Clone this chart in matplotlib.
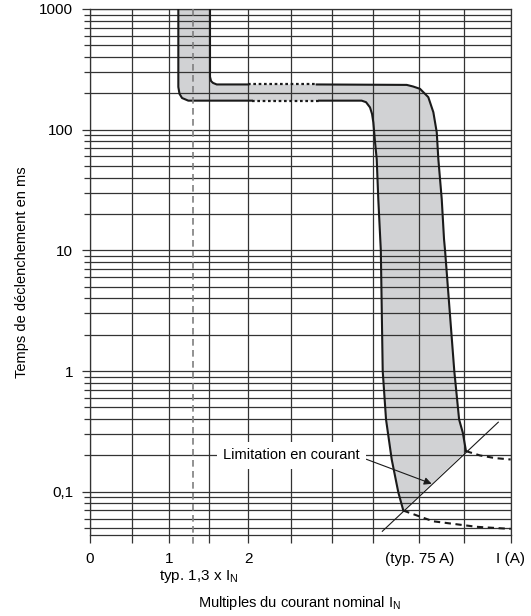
import matplotlib
matplotlib.use("Agg")
import matplotlib.pyplot as plt
import numpy as np

plt.rcParams['font.family'] = ['Liberation Sans', 'DejaVu Sans']
plt.rcParams['font.size'] = 11

# x axis: multiples of the nominal current (grid positions)
x_grid = [0, 0.53, 1.0, 1.5, 2.0, 2.54, 3.06, 3.58, 4.17, 4.74, 5.325]
x_labels = ['0', '', '1', '', '2', '', '', '', '(typ. 75 A)', '', 'I (A)']
x_typ = 1.3

y_major = [0.1, 1, 10, 100, 1000]
y_major_labels = ['0,1', '1', '10', '100', '1000']

# lower (fast) boundary of the tripping band, ms
low1_x = [1.118, 1.118, 1.133, 1.165, 1.244, 2.047]
low1_t = [1000, 226, 198, 183, 174, 174]
low2_x = [2.90, 3.439, 3.494, 3.544, 3.570, 3.586, 3.608, 3.629, 3.649, 3.681,
          3.705, 3.747, 3.819, 3.903, 3.966]
low2_t = [174, 174, 169, 153, 135, 115, 78.6, 57.1, 26.6, 10.0,
          1.0, 0.397, 0.185, 0.0985, 0.0698]
low_dot_x = [2.047, 2.90]
low_dot_t = [174, 174]
low_tail_x = [3.966, 4.342, 4.895, 5.325]
low_tail_t = [0.0698, 0.0569, 0.0512, 0.0492]

# upper (slow) boundary
up1_x = [1.519, 1.519, 1.532, 1.557, 1.604, 2.004]
up1_t = [1000, 274, 253, 244, 237, 237]
up2_x = [2.87, 4.009, 4.089, 4.177, 4.282, 4.346, 4.389, 4.409, 4.452, 4.481,
         4.494, 4.611, 4.672, 4.719, 4.759]
up2_t = [237, 235, 228, 218, 186, 139.5, 95, 57.1, 26.6, 12.4,
         10.0, 1.0, 0.397, 0.308, 0.217]
up_dot_x = [2.004, 2.87]
up_dot_t = [237, 237]
up_tail_x = [4.759, 4.937, 5.127, 5.325]
up_tail_t = [0.217, 0.1998, 0.190, 0.185]

# current limitation line
lim_x = [3.70, 5.168]
lim_t = [0.047, 0.377]
lim_arrow = (4.325, 0.1164)
lim_text_pos = (2.55, 0.2)

fig = plt.figure(figsize=(5.31, 6.16), dpi=100)
ax = fig.add_axes([90/531, 1-535/616, 420.7/531, 526/616])
ax.set_yscale('log')
ax.set_xlim(0, 5.325)
ax.set_ylim(0.0438, 1000)

gcol = '#333333'
for s in ax.spines.values():
    s.set_color(gcol)
    s.set_linewidth(0.9)

ax.set_xticks(x_grid)
ax.set_xticklabels(x_labels)
ax.set_yticks(y_major)
ax.set_yticklabels(y_major_labels)
ax.yaxis.set_minor_formatter(matplotlib.ticker.NullFormatter())
ax.tick_params(axis='x', length=6, width=0.9, color=gcol, pad=6)
ax.tick_params(axis='y', which='major', length=6, width=0.9, color=gcol, pad=6)
ax.tick_params(axis='y', which='minor', length=4, width=0.9, color=gcol)
ax.set_axisbelow(False)
ax.grid(True, which='both', axis='y', color=gcol, lw=0.9, zorder=2)
ax.grid(True, which='major', axis='x', color=gcol, lw=0.9, zorder=2)

# band
band_x = low1_x + low2_x + up2_x[::-1] + up1_x[::-1]
band_t = low1_t + low2_t + up2_t[::-1] + up1_t[::-1]
ax.fill(band_x, band_t, color='#d1d2d4', lw=0, zorder=1)

ck = '#1a1a1a'
for xs, ts in [(low1_x, low1_t), (low2_x, low2_t), (up1_x, up1_t), (up2_x, up2_t)]:
    ax.plot(xs, ts, color=ck, lw=1.5, zorder=3, solid_joinstyle='round')
for xs, ts in [(low_dot_x, low_dot_t), (up_dot_x, up_dot_t)]:
    ax.plot(xs, ts, color=ck, lw=1.6, ls=(0, (1.2, 1.2)), zorder=3)
for xs, ts in [(low_tail_x, low_tail_t), (up_tail_x, up_tail_t)]:
    ax.plot(xs, ts, color=ck, lw=1.5, ls=(0, (3, 2.2)), zorder=3)

ax.plot(lim_x, lim_t, color=ck, lw=0.8, zorder=3)

ax.plot([x_typ, x_typ], [1000, 0.0365], color='#7f7f7f', lw=1.2,
        dashes=[4, 2.6], clip_on=False, zorder=3)

ax.annotate('Limitation en courant', xy=lim_arrow, xytext=lim_text_pos,
            ha='center', va='center', fontsize=10.5, zorder=4,
            bbox=dict(boxstyle='square,pad=0.45', fc='white', ec='none'),
            arrowprops=dict(arrowstyle='-|>', color=ck, lw=0.8, shrinkA=0,
                            shrinkB=0, mutation_scale=11, relpos=(1.0, 0.4)))

fig.text(22/531, 1-272/616, 'Temps de déclenchement en ms', rotation=90,
         ha='center', va='center', fontsize=10.5)
fig.text(199/531, 1-580/616, r'typ. 1,3 x I$_\mathregular{N}$',
         ha='center', va='baseline', fontsize=11)
fig.text(300/531, 1-607/616, r'Multiples du courant nominal I$_\mathregular{N}$',
         ha='center', va='baseline', fontsize=10.5)

fig.savefig('out.png', dpi=100)
